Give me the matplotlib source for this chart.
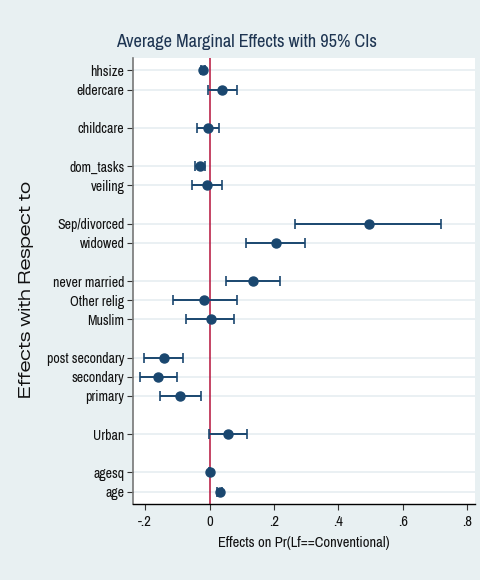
import numpy as np
import matplotlib.pyplot as plt

plt.rcParams['font.family'] = ['Archivo Narrow', 'Liberation Sans', 'DejaVu Sans']

# data (top to bottom)
labels = ['hhsize', 'eldercare', 'childcare', 'dom_tasks', 'veiling',
          'Sep/divorced', 'widowed', 'never married', 'Other relig', 'Muslim',
          'post secondary', 'secondary', 'primary', 'Urban', 'agesq', 'age']
rows = [22, 21, 19, 17, 16, 14, 13, 11, 10, 9, 7, 6, 5, 3, 1, 0]
effect = [-0.021, 0.039, -0.006, -0.030, -0.008, 0.494, 0.206, 0.135, -0.016, 0.003,
          -0.143, -0.159, -0.091, 0.057, 0.000, 0.031]
ci_low = [-0.027, -0.005, -0.039, -0.045, -0.054, 0.267, 0.113, 0.050, -0.114, -0.072,
          -0.203, -0.217, -0.153, -0.003, -0.002, 0.022]
ci_high = [-0.015, 0.085, 0.028, -0.014, 0.040, 0.720, 0.297, 0.220, 0.084, 0.077,
           -0.082, -0.101, -0.028, 0.117, 0.002, 0.040]
xticks = [-0.2, 0, 0.2, 0.4, 0.6, 0.8]
xticklabels = ['-.2', '0', '.2', '.4', '.6', '.8']

bg = '#e8f0f2'
navy = '#1a476f'

fig = plt.figure(figsize=(4.8, 5.8), dpi=100, facecolor=bg)
ax = fig.add_axes([0.2765, 0.131, 0.7131, 0.769])
ax.set_facecolor('white')

for r in rows:
    ax.axhline(r, color='#e6eef1', lw=1.2, zorder=0)
ax.axvline(0, color='#b5123a', lw=1.1, zorder=1)

eff = np.array(effect)
err = [eff - np.array(ci_low), np.array(ci_high) - eff]
ax.errorbar(eff, rows, xerr=err, fmt='o', color=navy, ms=6.5, lw=1.4,
            capsize=3.5, capthick=1.2, zorder=3)

ax.set_xlim(-0.239, 0.825)
ax.set_ylim(-0.65, 22.65)
ax.set_yticks(rows)
ax.set_yticklabels(labels, fontsize=10)
ax.set_xticks(xticks)
ax.set_xticklabels(xticklabels, fontsize=10.5)
ax.tick_params(axis='both', direction='out', length=4, width=0.8, colors='#333333',
               labelcolor='#111111')
ax.tick_params(axis='y', pad=2)
ax.tick_params(axis='x', pad=4)

for s in ['top', 'right']:
    ax.spines[s].set_visible(False)
ax.spines['left'].set_color('#777777')
ax.spines['left'].set_linewidth(1.2)
ax.spines['bottom'].set_color('black')
ax.spines['bottom'].set_linewidth(1.0)

ax.set_xlabel('Effects on Pr(Lf==Conventional)', fontsize=10.5, labelpad=5, color='#111111')
fig.text(0.056, 0.5, 'Effects with Respect to', rotation=90, ha='center', va='center',
         fontsize=11.8, color='#111111', family=['Zalando Sans Expanded', 'DejaVu Sans'])
fig.text(0.514, 0.927, 'Average Marginal Effects with 95% CIs', ha='center', va='center',
         fontsize=13.2, color='#1e3552')

fig.savefig('out.png', dpi=100, facecolor=bg)
